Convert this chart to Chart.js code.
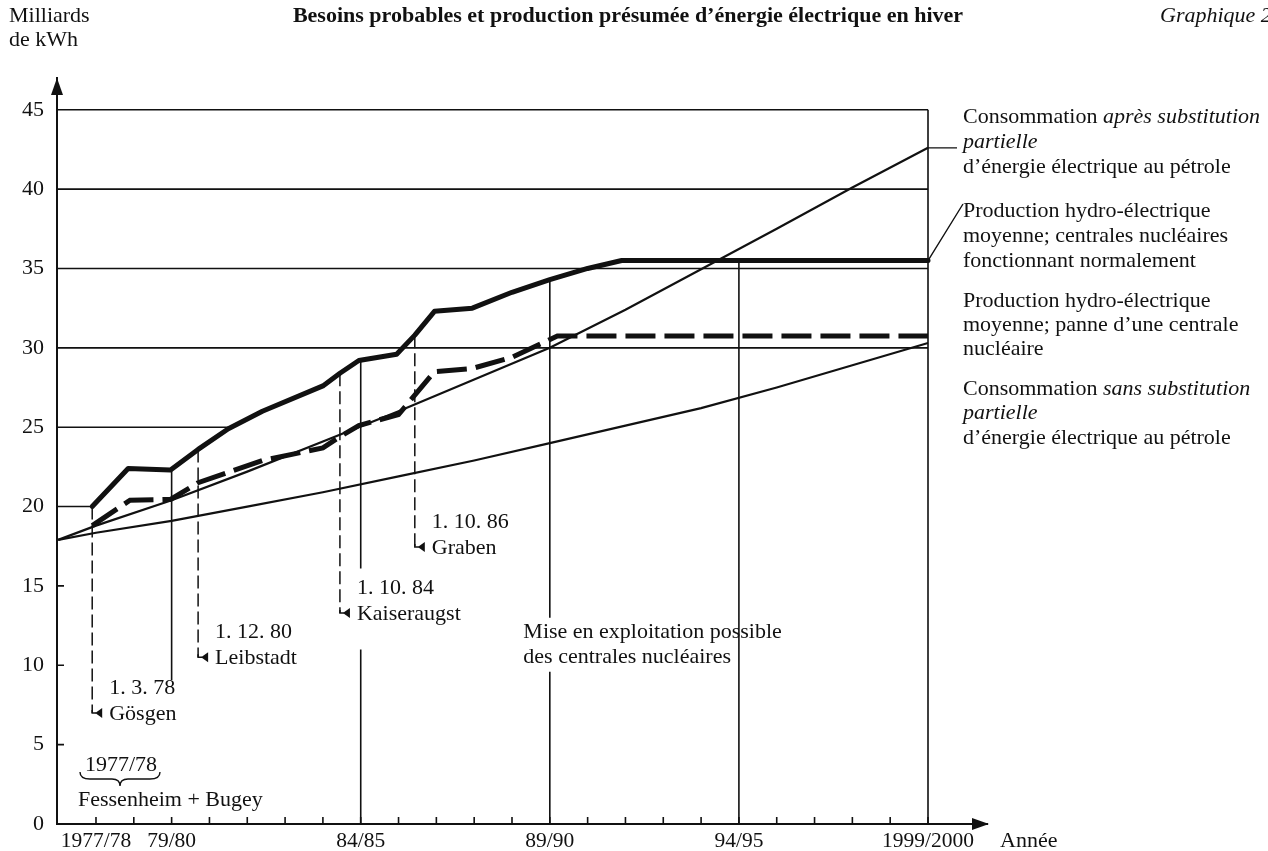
<!DOCTYPE html>
<html>
<head>
<meta charset="utf-8">
<script src="https://cdn.jsdelivr.net/npm/chart.js@4.4.1/dist/chart.umd.min.js"></script>
<style>
  html, body { margin: 0; padding: 0; background: #fff; }
</style>
</head>
<body>
<canvas id="chart" width="1268" height="851"></canvas>
<script>
// x values are winters counted from 1977/78 (= 0), y in milliards de kWh
const tickYears = [0, 1, 2, 3, 4, 5, 6, 7, 8, 9, 10, 11, 12, 13, 14, 15, 16, 17, 18, 19, 20, 21, 22];
const tickLabels = { 0: '1977/78', 2: '79/80', 7: '84/85', 12: '89/90', 17: '94/95', 22: '1999/2000' };
const yTicks = [0, 5, 10, 15, 20, 25, 30, 35, 40, 45];

// production, centrales nucléaires fonctionnant normalement
const normalX = [-0.1, 0.85, 1.97, 2.7, 3.5, 4.4, 6.0, 6.45, 6.95, 7.95, 8.43, 8.95, 9.95, 11.0, 12.0, 13.0, 13.9, 22];
const normalY = [20.0, 22.4, 22.3, 23.6, 24.9, 26.0, 27.6, 28.4, 29.2, 29.6, 30.8, 32.3, 32.5, 33.5, 34.3, 35.0, 35.5, 35.5];

// production, panne d'une centrale nucléaire
const panneX = [-0.1, 0.9, 1.97, 2.7, 4.4, 6.0, 6.45, 6.95, 8.0, 8.95, 9.95, 11.0, 12.2, 22];
const panneY = [18.8, 20.4, 20.45, 21.5, 22.9, 23.7, 24.4, 25.1, 25.8, 28.5, 28.7, 29.4, 30.75, 30.75];

// consommation après substitution partielle
const apresX = [-1, 0, 2, 4, 6, 8, 10, 12, 14, 16, 18, 20, 22];
const apresY = [17.9, 18.8, 20.4, 22.2, 24.1, 26.0, 28.0, 30.0, 32.4, 34.95, 37.5, 40.1, 42.6];

// consommation sans substitution partielle
const sansX = [-1, 0, 2, 4, 6, 8, 10, 12, 14, 16, 18, 20, 22];
const sansY = [17.9, 18.35, 19.1, 20.0, 20.9, 21.9, 22.9, 24.0, 25.1, 26.2, 27.5, 28.9, 30.3];

// horizontal rules and where they stop
const gridLevels = [45, 40, 35, 30, 25, 20];
const gridEnds = [22, 22, 22, 22, 3.5, -0.1];

// solid verticals (broken where text sits)
const solidX = [2, 7, 7, 12, 12, 17, 22];
const solidTop = [22.3, 29.2, 11.0, 34.3, 9.6, 35.5, 45];
const solidBottom = [9.07, 16.1, 0, 13.0, 0, 0, 0];

// mises en service (dashed drops)
const dropX = [-0.1, 2.7, 6.45, 8.43];
const dropTop = [20.0, 23.6, 28.4, 30.8];
const dropBottom = [7.0, 10.5, 13.3, 17.45];
const dropDate = ['1. 3. 78', '1. 12. 80', '1. 10. 84', '1. 10. 86'];
const dropPlant = ['Gösgen', 'Leibstadt', 'Kaiseraugst', 'Graben'];

const legendLines = [
  [117, [['Consommation ', 0], ['après substitution', 1]]],
  [142, [['partielle', 1]]],
  [167, [['d’énergie électrique au pétrole', 0]]],
  [211, [['Production hydro-électrique', 0]]],
  [236, [['moyenne; centrales nucléaires', 0]]],
  [261, [['fonctionnant normalement', 0]]],
  [301, [['Production hydro-électrique', 0]]],
  [325, [['moyenne; panne d’une centrale', 0]]],
  [349, [['nucléaire', 0]]],
  [389, [['Consommation ', 0], ['sans substitution', 1]]],
  [413, [['partielle', 1]]],
  [438, [['d’énergie électrique au pétrole', 0]]]
];

const INK = '#111';
const SERIF = '"Liberation Serif", "Times New Roman", serif';

function pts(xs, ys) {
  return xs.map((x, i) => ({ x: x, y: ys[i] }));
}

function segs(xs, tops, bottoms) {
  const out = [];
  xs.forEach((x, i) => {
    out.push({ x: x, y: tops[i] }, { x: x, y: bottoms[i] }, { x: x, y: null });
  });
  return out;
}

function hsegs(levels, ends) {
  const out = [];
  levels.forEach((v, i) => {
    out.push({ x: -1.04, y: v }, { x: ends[i], y: v }, { x: ends[i], y: null });
  });
  return out;
}

function runs(ctx, x, y, parts, size) {
  for (const [t, it] of parts) {
    ctx.font = (it ? 'italic ' : '') + size + 'px ' + SERIF;
    ctx.fillText(t, x, y);
    x += ctx.measureText(t).width;
  }
}

const decor = {
  id: 'decor',
  afterDraw(chart) {
    const { ctx, chartArea: a } = chart;
    const xs = chart.scales.x, ys = chart.scales.y;
    const px = v => xs.getPixelForValue(v);
    const py = v => ys.getPixelForValue(v);

    ctx.save();
    ctx.fillStyle = INK;
    ctx.strokeStyle = INK;
    ctx.textBaseline = 'middle';

    // titles
    ctx.font = 'bold 22px ' + SERIF;
    ctx.textAlign = 'center';
    ctx.fillText('Besoins probables et production présumée d’énergie électrique en hiver', 628, 16);
    ctx.textAlign = 'left';
    ctx.font = 'italic 22px ' + SERIF;
    ctx.fillText('Graphique 2', 1160, 16);
    ctx.font = '22px ' + SERIF;
    ctx.fillText('Milliards', 9, 16);
    ctx.fillText('de kWh', 9, 40);
    ctx.fillText('Année', 1000, 841);

    // axis arrows
    ctx.beginPath();
    ctx.moveTo(a.left, a.top);
    ctx.lineTo(a.left - 6, a.top + 17);
    ctx.lineTo(a.left + 6, a.top + 17);
    ctx.closePath();
    ctx.fill();
    ctx.beginPath();
    ctx.moveTo(a.right + 2, a.bottom);
    ctx.lineTo(a.right - 15, a.bottom - 6);
    ctx.lineTo(a.right - 15, a.bottom + 6);
    ctx.closePath();
    ctx.fill();

    // tick marks
    ctx.lineWidth = 1.6;
    ctx.beginPath();
    tickYears.forEach(v => {
      ctx.moveTo(px(v), a.bottom);
      ctx.lineTo(px(v), a.bottom - 7);
    });
    [5, 10, 15].forEach(v => {
      ctx.moveTo(a.left, py(v));
      ctx.lineTo(a.left + 7, py(v));
    });
    ctx.stroke();

    // drops: hooks and labels
    ctx.font = '22px ' + SERIF;
    dropX.forEach((d, i) => {
      const X = px(d), Y = py(dropBottom[i]);
      ctx.lineWidth = 1.5;
      ctx.beginPath();
      ctx.moveTo(X, Y - 3);
      ctx.lineTo(X, Y);
      ctx.lineTo(X + 4, Y);
      ctx.stroke();
      ctx.beginPath();
      ctx.moveTo(X + 3, Y);
      ctx.lineTo(X + 10, Y - 5);
      ctx.lineTo(X + 10, Y + 5);
      ctx.closePath();
      ctx.fill();
      ctx.fillText(dropDate[i], X + 17, Y - 25);
      ctx.fillText(dropPlant[i], X + 17, Y + 1);
    });

    ctx.fillText('Mise en exploitation possible', px(11.3), py(12.1));
    ctx.fillText('des centrales nucléaires', px(11.3), py(10.5));

    // 1977/78 brace
    ctx.fillText('1977/78', 85, 765);
    ctx.lineWidth = 1.4;
    ctx.beginPath();
    ctx.moveTo(80, 772);
    ctx.quadraticCurveTo(80, 779, 90, 779);
    ctx.lineTo(112, 779);
    ctx.quadraticCurveTo(120, 779, 120, 786);
    ctx.quadraticCurveTo(120, 779, 128, 779);
    ctx.lineTo(150, 779);
    ctx.quadraticCurveTo(160, 779, 160, 772);
    ctx.stroke();
    ctx.fillText('Fessenheim + Bugey', 78, 800);

    // legend texts and leaders
    legendLines.forEach(([y, parts]) => runs(ctx, 963, y, parts, 22));
    ctx.lineWidth = 1.4;
    ctx.beginPath();
    ctx.moveTo(px(22), py(apresY[apresY.length - 1]));
    ctx.lineTo(957, py(apresY[apresY.length - 1]));
    ctx.moveTo(px(22), py(normalY[normalY.length - 1]));
    ctx.lineTo(963, 204);
    ctx.stroke();

    ctx.restore();
  }
};

const thin = { borderColor: INK, pointRadius: 0, fill: false, tension: 0 };

new Chart(document.getElementById('chart'), {
  type: 'line',
  data: {
    datasets: [
      Object.assign({ label: 'Production normale', data: pts(normalX, normalY), borderWidth: 5, borderJoinStyle: 'round', borderCapStyle: 'round' }, thin),
      Object.assign({ label: 'Panne d’une centrale', data: pts(panneX, panneY), borderWidth: 5, borderDash: [30, 9] }, thin),
      Object.assign({ label: 'Consommation après substitution', data: pts(apresX, apresY), borderWidth: 2.2 }, thin),
      Object.assign({ label: 'Consommation sans substitution', data: pts(sansX, sansY), borderWidth: 2.2 }, thin),
      Object.assign({ label: 'drops', data: segs(dropX, dropTop, dropBottom), borderWidth: 1.5, borderDash: [13, 5] }, thin),
      Object.assign({ label: 'verticals', data: segs(solidX, solidTop, solidBottom), borderWidth: 1.6 }, thin),
      Object.assign({ label: 'rules', data: hsegs(gridLevels, gridEnds), borderWidth: 1.6 }, thin)
    ]
  },
  options: {
    responsive: false,
    animation: false,
    layout: { padding: { top: 78, right: 281, left: 0, bottom: 0 } },
    plugins: {
      legend: { display: false },
      tooltip: { enabled: false },
      title: { display: false }
    },
    scales: {
      x: {
        type: 'linear',
        min: -1.031,
        max: 23.56,
        afterFit: s => { s.height = 27; },
        afterBuildTicks: s => { s.ticks = tickYears.map(v => ({ value: v })); },
        ticks: {
          autoSkip: false,
          maxRotation: 0,
          padding: 4,
          color: INK,
          font: { family: SERIF, size: 21.5 },
          callback: v => tickLabels[v] || ''
        },
        grid: { display: false, drawTicks: false },
        border: { display: true, color: INK, width: 2 }
      },
      y: {
        min: 0,
        max: 47.0,
        afterFit: s => { s.width = 57; },
        afterBuildTicks: s => { s.ticks = yTicks.map(v => ({ value: v })); },
        ticks: {
          padding: 13,
          color: INK,
          font: { family: SERIF, size: 22 }
        },
        grid: { display: false, drawTicks: false },
        border: { display: true, color: INK, width: 2 }
      }
    }
  },
  plugins: [decor]
});
</script>
</body>
</html>
